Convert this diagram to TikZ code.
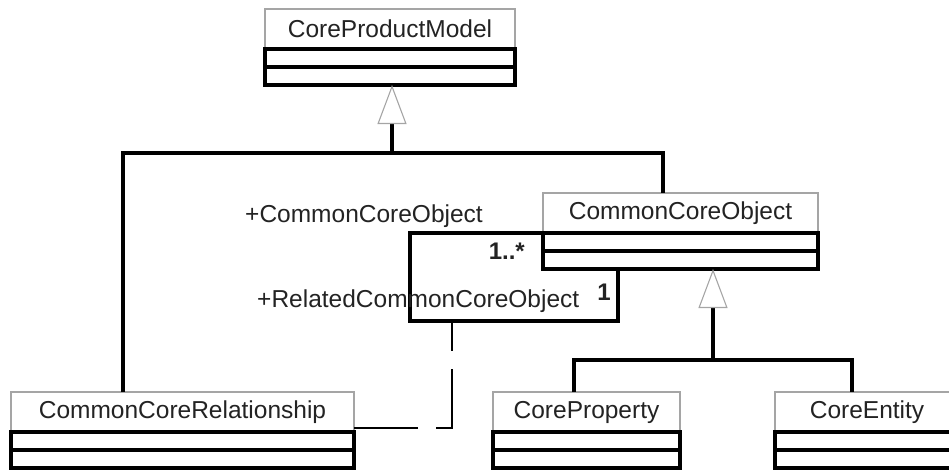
\documentclass[tikz,border=0pt]{standalone}
\usepackage{fontspec}
\setmainfont{Liberation Sans}
\usetikzlibrary{positioning,calc,arrows.meta}
\definecolor{namegrey}{RGB}{165,165,165}
\definecolor{textgrey}{RGB}{35,35,35}
\tikzset{
  clsname/.style={draw=namegrey, line width=1.1pt, fill=white, text=textgrey,
    minimum height=40pt, inner sep=0pt, outer sep=0pt, anchor=north west,
    font=\fontsize{24.5}{28}\selectfont},
  clsbox/.style={draw=black, line width=3.5pt, minimum height=18pt,
    inner sep=0pt, outer sep=0pt},
  link/.style={line width=3.5pt, draw=black},
  gen/.style={link, -{Triangle[open, length=39pt, width=29pt, line width=1.1pt, color=namegrey]}},
  assocdash/.style={line width=2.4pt, dash pattern=on 75pt off 18pt, dash phase=45pt},
  role/.style={inner sep=0pt, text=textgrey, font=\fontsize{24.5}{28}\selectfont},
  mult/.style={role, font=\bfseries\fontsize{24}{28}\selectfont}
}

\begin{document}
\begin{tikzpicture}[x=1pt, y=-1pt]

\clip (0,0) rectangle (949,471);

% -----------------------------------------
% classes: name box + two compartments
% -----------------------------------------
\node[clsname, minimum width=250pt] (cpm) at (265,9) {CoreProductModel};
\node[clsbox, minimum width=250pt, below=0pt of cpm] (cpm-att) {};
\node[clsbox, minimum width=250pt, below=0pt of cpm-att] (cpm-op) {};

\node[clsname, minimum width=275pt] (cco) at (543,193) {CommonCoreObject};
\node[clsbox, minimum width=275pt, below=0pt of cco] (cco-att) {};
\node[clsbox, minimum width=275pt, below=0pt of cco-att] (cco-op) {};

\node[clsname, minimum width=343pt] (ccr) at (11,392) {CommonCoreRelationship};
\node[clsbox, minimum width=343pt, below=0pt of ccr] (ccr-att) {};
\node[clsbox, minimum width=343pt, below=0pt of ccr-att] (ccr-op) {};

\node[clsname, minimum width=187pt] (cp) at (493,392) {CoreProperty};
\node[clsbox, minimum width=187pt, below=0pt of cp] (cp-att) {};
\node[clsbox, minimum width=187pt, below=0pt of cp-att] (cp-op) {};

\node[clsname, minimum width=184pt] (ce) at (775,392) {CoreEntity};
\node[clsbox, minimum width=184pt, below=0pt of ce] (ce-att) {};
\node[clsbox, minimum width=184pt, below=0pt of ce-att] (ce-op) {};

% -----------------------------------------
% generalisations
% -----------------------------------------
\coordinate (gen1) at (392,153);
\draw[link] ([xshift=112pt]ccr.north west) |- (gen1) -| ([xshift=120pt]cco.north west);
\draw[gen] (gen1) -- ([xshift=127pt]cpm-op.south west);

\coordinate (gen2) at (713,360);
\draw[link] ([xshift=81pt]cp.north west) |- (gen2) -| ([xshift=77pt]ce.north west);
\draw[gen] (gen2) -- ([xshift=170pt]cco-op.south west);

% -----------------------------------------
% self association + association class
% -----------------------------------------
\coordinate (loop) at (410,321);
\draw[link] (cco.south west) -| (loop) -| ([xshift=75pt]cco-op.south west);

\coordinate (assoc) at (452,321);
\draw[assocdash] (assoc) |- ([yshift=4pt]ccr.south east);

% role names and multiplicities
\node[role, anchor=base west] (role1) at (245,222) {+CommonCoreObject};
\node[mult, anchor=base east] (mult1) at (525,259) {1..*};
\node[role, anchor=base west] (role2) at (257,307) {+RelatedCommonCoreObject};
\node[mult, anchor=base east] (mult2) at (611,300) {1};

\end{tikzpicture}
\end{document}
